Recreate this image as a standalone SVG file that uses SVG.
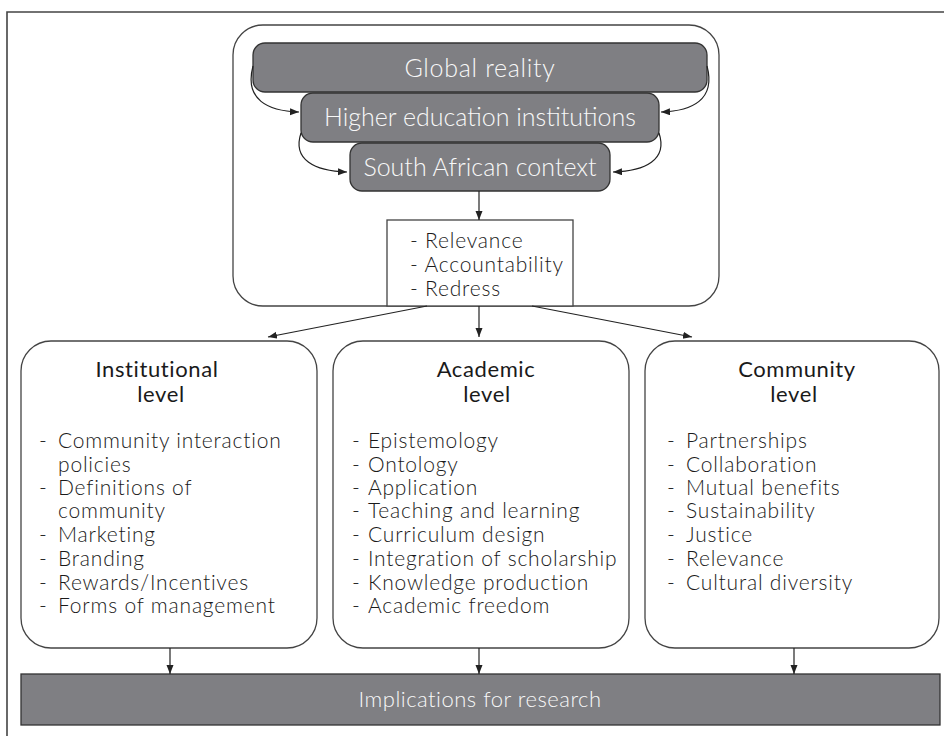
<svg xmlns="http://www.w3.org/2000/svg" width="944" height="736" viewBox="0 0 944 736">
<defs>
<marker id="ah" markerUnits="userSpaceOnUse" markerWidth="10" markerHeight="8" refX="9" refY="3.5" orient="auto">
<path d="M0,0 L9,3.5 L0,7 z" fill="#222"/>
</marker>
<style>
.frame{stroke:#444;stroke-width:1.6;fill:none}
.box{fill:#fff;stroke:#444;stroke-width:1.3}
.gray{fill:#7f7f83;stroke:#333;stroke-width:1.3}
.wt{fill:#f8f8f8;font-family:Lato,"Liberation Sans",sans-serif;font-weight:300;text-anchor:middle}
.title{font-family:Lato,"Liberation Sans",sans-serif;font-size:22px;letter-spacing:0.6px;fill:#1a1a1a;text-anchor:middle}
.item{font-family:Lato,"Liberation Sans",sans-serif;font-weight:300;font-size:21px;letter-spacing:0.8px;fill:#1a1a1a}
.conn{stroke:#222;stroke-width:1.2;fill:none;marker-end:url(#ah)}
</style>
</defs>
<rect width="944" height="736" fill="#fff"/>
<path class="frame" d="M7,736 L7,12 L944,12"/>

<g id="context">
<rect class="box" x="233" y="25" width="486" height="281" rx="30"/>
</g>
<g id="global">
<rect class="gray" x="253" y="43" width="454" height="49" rx="12"/>
<text class="wt" x="480" y="77" font-size="25" letter-spacing="0.7">Global reality</text>
</g>
<g id="hei">
<rect class="gray" x="301" y="93" width="358" height="49" rx="12"/>
<text class="wt" x="480" y="126" font-size="25">Higher education institutions</text>
</g>
<g id="sa">
<rect class="gray" x="350" y="143" width="260" height="48" rx="12"/>
<text class="wt" x="480" y="176" font-size="25">South African context</text>
</g>
<g id="values">
<rect class="box" x="387" y="220" width="186" height="86"/>
<text class="item" x="410" y="248">- Relevance</text>
<text class="item" x="410" y="272">- Accountability</text>
<text class="item" x="410" y="296">- Redress</text>
</g>

<g id="institutional">
<rect class="box" x="21" y="341" width="296" height="307" rx="30"/>
<text class="title" x="157" y="377">Institutional</text>
<text class="title" x="161" y="402">level</text>
<text class="item" x="39" y="448">- </text><text class="item" x="58" y="448">Community interaction</text>
<text class="item" x="58" y="472">policies</text>
<text class="item" x="39" y="495">- </text><text class="item" x="58" y="495">Definitions of</text>
<text class="item" x="58" y="518">community</text>
<text class="item" x="39" y="542">- </text><text class="item" x="58" y="542">Marketing</text>
<text class="item" x="39" y="566">- </text><text class="item" x="58" y="566">Branding</text>
<text class="item" x="39" y="590">- </text><text class="item" x="58" y="590">Rewards/Incentives</text>
<text class="item" x="39" y="613">- </text><text class="item" x="58" y="613">Forms of management</text>
</g>

<g id="academic">
<rect class="box" x="333" y="341" width="296" height="307" rx="30"/>
<text class="title" x="486" y="377">Academic</text>
<text class="title" x="487" y="402">level</text>
<text class="item" x="352" y="448">- </text><text class="item" x="368" y="448">Epistemology</text>
<text class="item" x="352" y="472">- </text><text class="item" x="368" y="472">Ontology</text>
<text class="item" x="352" y="495">- </text><text class="item" x="368" y="495">Application</text>
<text class="item" x="352" y="518">- </text><text class="item" x="368" y="518">Teaching and learning</text>
<text class="item" x="352" y="542">- </text><text class="item" x="368" y="542">Curriculum design</text>
<text class="item" x="352" y="566">- </text><text class="item" x="368" y="566">Integration of scholarship</text>
<text class="item" x="352" y="590">- </text><text class="item" x="368" y="590">Knowledge production</text>
<text class="item" x="352" y="613">- </text><text class="item" x="368" y="613">Academic freedom</text>
</g>

<g id="community">
<rect class="box" x="645" y="341" width="294" height="307" rx="30"/>
<text class="title" x="797" y="377">Community</text>
<text class="title" x="794" y="402">level</text>
<text class="item" x="667" y="448">- </text><text class="item" x="686" y="448">Partnerships</text>
<text class="item" x="667" y="472">- </text><text class="item" x="686" y="472">Collaboration</text>
<text class="item" x="667" y="495">- </text><text class="item" x="686" y="495">Mutual benefits</text>
<text class="item" x="667" y="518">- </text><text class="item" x="686" y="518">Sustainability</text>
<text class="item" x="667" y="542">- </text><text class="item" x="686" y="542">Justice</text>
<text class="item" x="667" y="566">- </text><text class="item" x="686" y="566">Relevance</text>
<text class="item" x="667" y="590">- </text><text class="item" x="686" y="590">Cultural diversity</text>
</g>

<g id="research">
<rect class="gray" x="21" y="674" width="919" height="51"/>
<text class="wt" x="480" y="707" font-size="22" letter-spacing="0.5">Implications for research</text>
</g>

<g id="connectors">
<path class="conn" d="M253,66 C244,100 268,111 299,112"/>
<path class="conn" d="M707,66 C716,100 692,111 661,112"/>
<path class="conn" d="M301,133 C292,160 315,171 347,172"/>
<path class="conn" d="M659,133 C668,160 645,171 613,172"/>
<path class="conn" d="M479,191 L479,220"/>
<path class="conn" d="M427,306 L268,337"/>
<path class="conn" d="M479,306 L479,337"/>
<path class="conn" d="M532,306 L692,337"/>
<path class="conn" d="M170,648 L170,674"/>
<path class="conn" d="M479,648 L479,674"/>
<path class="conn" d="M794,648 L794,674"/>
</g>
</svg>
